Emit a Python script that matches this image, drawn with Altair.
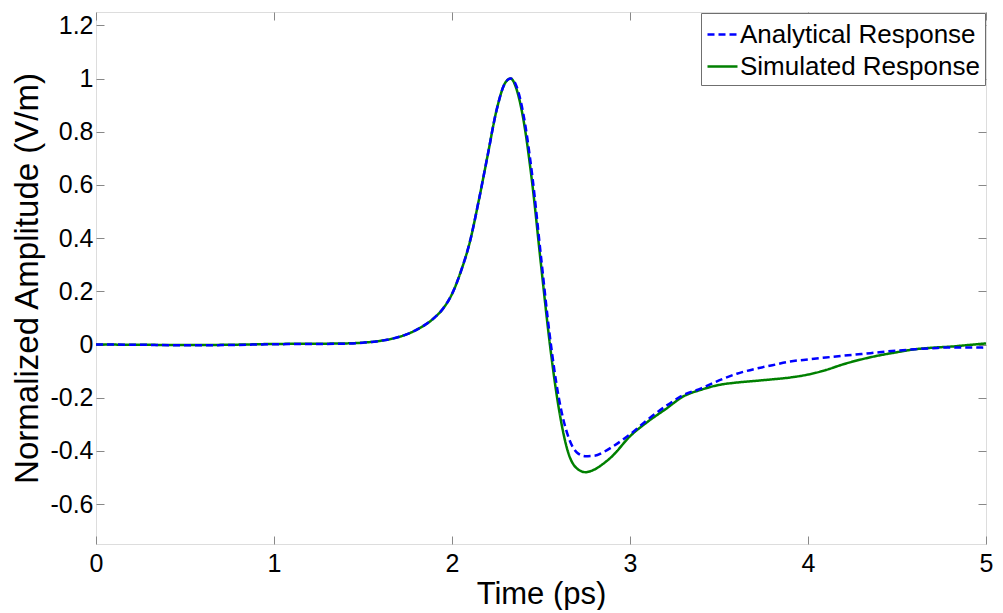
import altair as alt
import pandas as pd

time_ps = [0.0, 0.25, 0.5, 0.75, 1.0, 1.25, 1.4, 1.5, 1.6, 1.7, 1.8, 1.9, 1.95, 2.0,
           2.05, 2.1, 2.15, 2.2, 2.25, 2.3, 2.33, 2.36, 2.4, 2.45, 2.5, 2.55, 2.6,
           2.65, 2.7, 2.75, 2.8, 2.85, 2.9, 3.0, 3.1, 3.2, 3.3, 3.4, 3.5, 3.6, 3.7,
           3.8, 3.9, 4.0, 4.1, 4.2, 4.3, 4.4, 4.5, 4.6, 4.7, 4.8, 4.9, 5.0]

analytical = [0.0, -0.001, -0.003, -0.002, 0.001, 0.002, 0.003, 0.007, 0.014, 0.028,
              0.055, 0.10, 0.135, 0.19, 0.275, 0.385, 0.54, 0.71, 0.88, 0.985, 1.0,
              0.975, 0.87, 0.64, 0.33, 0.03, -0.20, -0.34, -0.405, -0.42, -0.418,
              -0.405, -0.385, -0.338, -0.282, -0.232, -0.19, -0.165, -0.135, -0.11,
              -0.092, -0.078, -0.064, -0.056, -0.049, -0.042, -0.036, -0.029, -0.023,
              -0.018, -0.014, -0.011, -0.011, -0.012]

simulated = [0.0, -0.001, -0.002, -0.001, 0.002, 0.003, 0.004, 0.007, 0.014, 0.028,
             0.055, 0.10, 0.135, 0.19, 0.275, 0.385, 0.54, 0.71, 0.88, 0.985, 1.0,
             0.965, 0.85, 0.61, 0.30, 0.0, -0.24, -0.40, -0.465, -0.48, -0.47,
             -0.448, -0.42, -0.345, -0.29, -0.243, -0.195, -0.17, -0.152, -0.143,
             -0.137, -0.131, -0.124, -0.113, -0.096, -0.074, -0.056, -0.041, -0.029,
             -0.018, -0.012, -0.008, -0.002, 0.004]

series_names = ["Analytical Response", "Simulated Response"]
series_colors = ["#0000ff", "#008000"]
x_ticks = [0, 1, 2, 3, 4, 5]
y_ticks = [-0.6, -0.4, -0.2, 0, 0.2, 0.4, 0.6, 0.8, 1, 1.2]

df_a = pd.DataFrame({"t": time_ps, "v": analytical, "series": series_names[0]})
df_s = pd.DataFrame({"t": time_ps, "v": simulated, "series": series_names[1]})

FONT = "Liberation Sans"
GRAY = "#6f6f6f"

xscale = alt.Scale(domain=[0, 5], nice=False, zero=False)
yscale = alt.Scale(domain=[-0.75, 1.25], nice=False, zero=False)
cscale = alt.Scale(domain=series_names, range=series_colors)
dscale = alt.Scale(domain=series_names, range=[[7, 4], [1, 0]])

legend = alt.Legend(
    title=None, orient="top-right", offset=1, strokeColor=GRAY, fillColor="white",
    padding=5, labelFontSize=26, labelFont=FONT, labelColor="black",
    symbolType="stroke", symbolSize=900, symbolStrokeWidth=2.5, rowPadding=2,
    labelOffset=1, labelLimit=400,
)

x_bottom = alt.Axis(values=x_ticks, orient="bottom", offset=-8, tickSize=8, domain=False,
                    grid=False, labelFontSize=25, labelPadding=7, labelFlush=False,
                    title="Time (ps)", titleFontSize=31, titlePadding=3,
                    titleFontWeight="normal", labelExpr="'' + datum.value")
y_left = alt.Axis(values=y_ticks, orient="left", offset=-8, tickSize=8, domain=False,
                  grid=False, labelFontSize=25, labelPadding=3, labelFlush=False,
                  title="Normalized Amplitude (V/m)", titleFontSize=33, titlePadding=5,
                  titleFontWeight="normal", labelExpr="'' + datum.value")
x_top = alt.Axis(values=x_ticks, orient="top", offset=-8, tickSize=8, domain=False,
                 grid=False, labels=False, title=None)
y_right = alt.Axis(values=y_ticks, orient="right", offset=-8, tickSize=8, domain=False,
                   grid=False, labels=False, title=None)

sim = alt.Chart(df_s).mark_line(strokeWidth=2.5, interpolate="monotone").encode(
    x=alt.X("t:Q", scale=xscale, axis=x_bottom),
    y=alt.Y("v:Q", scale=yscale, axis=y_left),
    color=alt.Color("series:N", scale=cscale, legend=legend),
    strokeDash=alt.StrokeDash("series:N", scale=dscale, legend=legend),
)

ana = alt.Chart(df_a).mark_line(strokeWidth=2.5, interpolate="monotone").encode(
    x=alt.X("t:Q", scale=xscale, axis=x_top),
    y=alt.Y("v:Q", scale=yscale, axis=y_right),
    color=alt.Color("series:N", scale=cscale, legend=legend),
    strokeDash=alt.StrokeDash("series:N", scale=dscale, legend=legend),
)

chart = alt.layer(sim, ana).resolve_axis(x="independent", y="independent").properties(
    width=890, height=532,
    autosize=alt.AutoSizeParams(type="none"),
    padding={"left": 88, "top": 4, "right": 9, "bottom": 66},
).configure_view(stroke=GRAY, strokeWidth=1).configure_axis(
    labelFont=FONT, titleFont=FONT, labelColor="black", titleColor="black",
    tickColor=GRAY, titleFontWeight="normal",
).configure(background="white")

chart.save("out.html", embed_options={"renderer": "svg", "actions": False})
